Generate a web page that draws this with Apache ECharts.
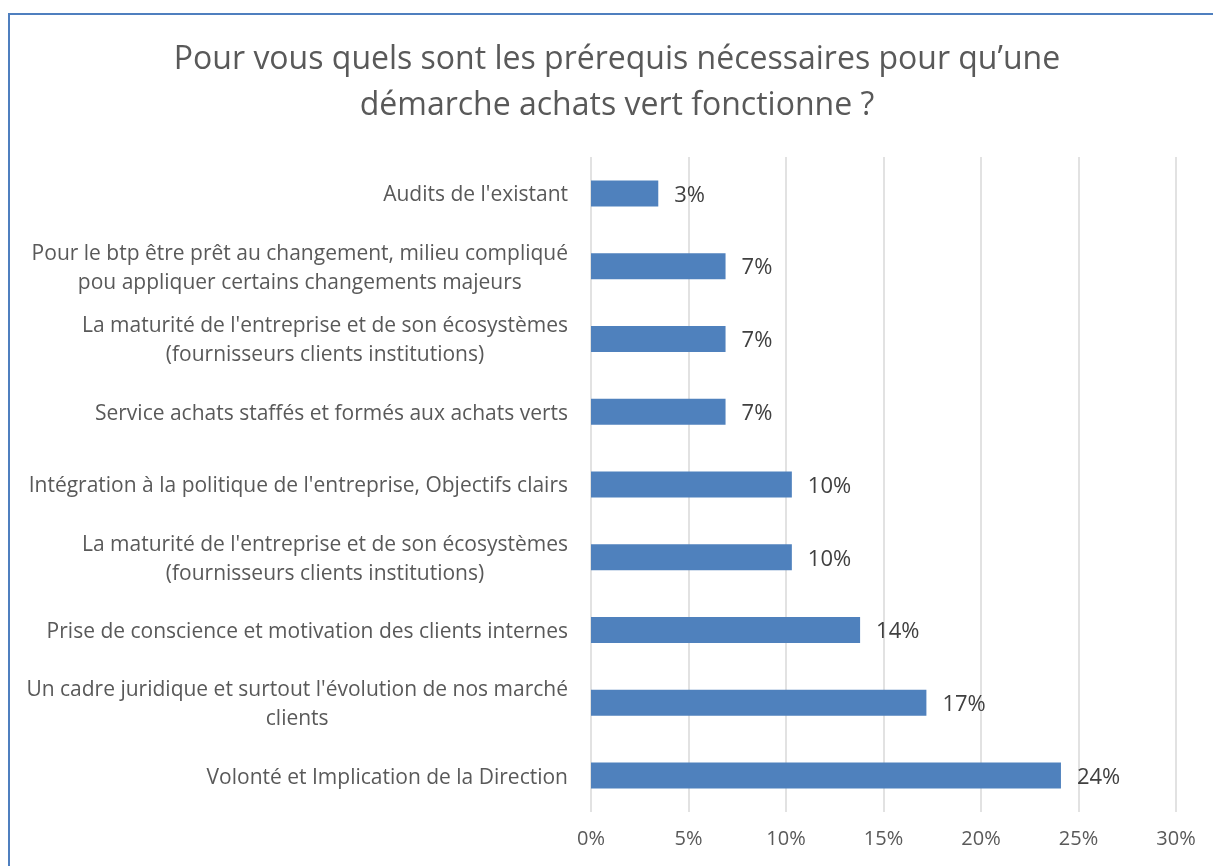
<!DOCTYPE html>
<html>
<head>
<meta charset="utf-8">
<style>
  html, body { margin: 0; padding: 0; background: #fff; }
  #chart { width: 1213px; height: 866px; }
</style>
<script src="https://cdn.jsdelivr.net/npm/echarts@6/dist/echarts.min.js"></script>
</head>
<body>
<div id="chart"></div>
<script>
// Survey answers, listed from top to bottom
const categories = [
  "Audits de l'existant",
  "Pour le btp être prêt au changement, milieu compliqué\npou appliquer certains changements majeurs",
  "La maturité de l'entreprise et de son écosystèmes\n(fournisseurs clients institutions)",
  "Service achats staffés et formés aux achats verts",
  "Intégration à la politique de l'entreprise, Objectifs clairs",
  "La maturité de l'entreprise et de son écosystèmes\n(fournisseurs clients institutions)",
  "Prise de conscience et motivation des clients internes",
  "Un cadre juridique et surtout l'évolution de nos marché\nclients",
  "Volonté et Implication de la Direction"
];
// Share of respondents, in percent
const shares = [3.45, 6.9, 6.9, 6.9, 10.3, 10.3, 13.8, 17.2, 24.1];
// Horizontal axis ticks, in percent
const axisTicks = [0, 5, 10, 15, 20, 25, 30];

const FONT = '"Open Sans", sans-serif';

const chart = echarts.init(document.getElementById('chart'));
chart.setOption({
  backgroundColor: '#ffffff',
  animation: false,
  graphic: [{
    type: 'rect',
    silent: true,
    shape: { x: 9, y: 14, width: 1400, height: 1000 },
    style: { fill: 'none', stroke: '#4f7fbf', lineWidth: 2 }
  }, {
    type: 'text',
    silent: true,
    x: 617,
    y: 83,
    style: {
      text: "Pour vous quels sont les prérequis nécessaires pour qu’une\ndémarche achats vert fonctionne ?",
      align: 'center',
      verticalAlign: 'middle',
      fontFamily: FONT,
      fontSize: 32,
      lineHeight: 46,
      fill: '#595959'
    }
  }],
  grid: { left: 591, right: 37, top: 157, bottom: 54, containLabel: false },
  xAxis: {
    type: 'value',
    min: axisTicks[0],
    max: axisTicks[axisTicks.length - 1],
    interval: axisTicks[1] - axisTicks[0],
    axisLine: { show: false },
    axisTick: { show: false },
    splitLine: { show: true, lineStyle: { color: '#d9d9d9', width: 1.5 } },
    axisLabel: {
      margin: 17,
      fontFamily: FONT,
      fontSize: 20,
      color: '#595959',
      formatter: v => v + '%'
    }
  },
  yAxis: {
    type: 'category',
    inverse: true,
    data: categories,
    axisLine: { show: false },
    axisTick: { show: false },
    axisLabel: {
      margin: 23,
      fontFamily: FONT,
      fontSize: 21,
      color: '#595959',
      lineHeight: 29,
      padding: [4, 0, 0, 0],
      formatter: v => v.split('\n').map(l => '{c|' + l + '}').join('\n'),
      rich: {
        c: {
          align: 'center',
          fontFamily: FONT,
          fontSize: 21,
          color: '#595959',
          lineHeight: 29
        }
      }
    }
  },
  series: [{
    type: 'bar',
    data: shares,
    barWidth: 26,
    itemStyle: { color: '#4f81bd' },
    label: {
      show: true,
      position: 'right',
      distance: 16,
      offset: [0, 2],
      fontFamily: FONT,
      fontSize: 22,
      color: '#404040',
      formatter: p => Math.round(p.value) + '%'
    }
  }]
});
</script>
</body>
</html>
